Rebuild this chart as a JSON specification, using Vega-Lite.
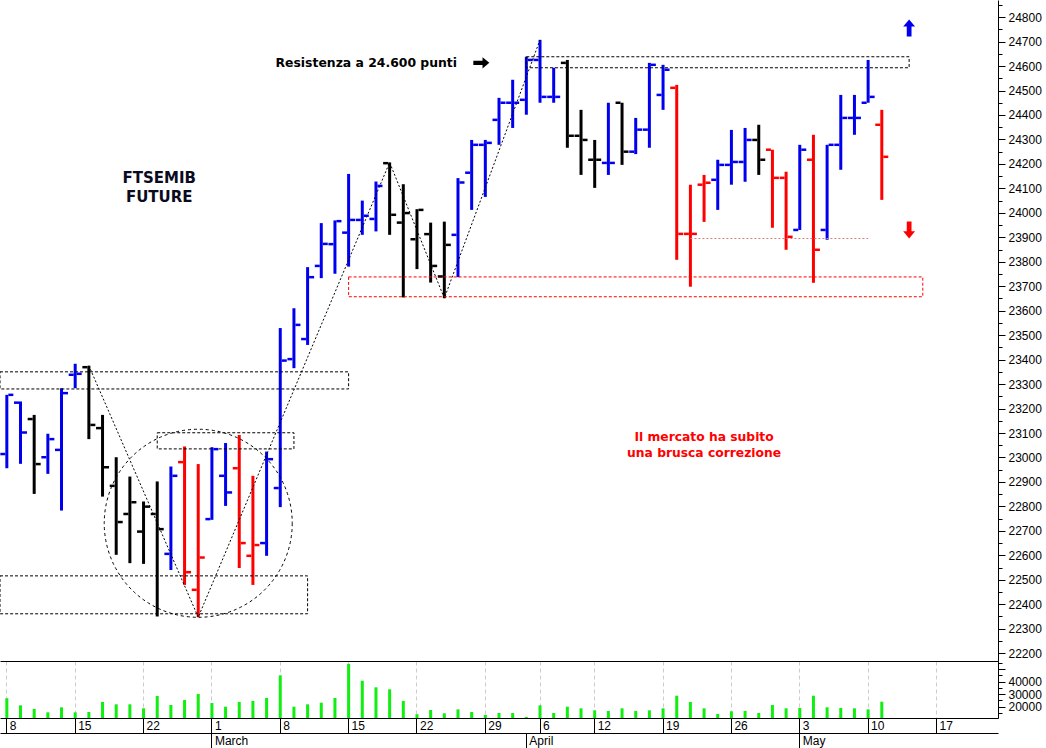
{
  "$schema": "https://vega.github.io/schema/vega-lite/v6.json",
  "padding": 0,
  "background": "white",
  "spacing": 0,
  "bounds": "flush",
  "config": {"view": {"stroke": null}},
  "datasets": {
    "ohlc": [
      {"d":"2021-02-08","o":23014,"h":23256,"l":22956,"c":23256,"v":26700,"k":"blu"},
      {"d":"2021-02-09","o":23224,"h":23229,"l":22974,"c":23102,"v":21100,"k":"blu"},
      {"d":"2021-02-10","o":23157,"h":23174,"l":22851,"c":22973,"v":18200,"k":"nero"},
      {"d":"2021-02-11","o":23001,"h":23097,"l":22933,"c":23075,"v":15500,"k":"blu"},
      {"d":"2021-02-12","o":23031,"h":23283,"l":22783,"c":23263,"v":19500,"k":"blu"},
      {"d":"2021-02-15","o":23338,"h":23383,"l":23283,"c":23342,"v":15500,"k":"blu"},
      {"d":"2021-02-16","o":23369,"h":23375,"l":23075,"c":23133,"v":15800,"k":"nero"},
      {"d":"2021-02-17","o":23120,"h":23174,"l":22840,"c":22960,"v":23800,"k":"nero"},
      {"d":"2021-02-18","o":22884,"h":23001,"l":22602,"c":22736,"v":21900,"k":"nero"},
      {"d":"2021-02-19","o":22769,"h":22922,"l":22568,"c":22817,"v":21900,"k":"nero"},
      {"d":"2021-02-22","o":22697,"h":22820,"l":22565,"c":22799,"v":18700,"k":"nero"},
      {"d":"2021-02-23","o":22769,"h":22902,"l":22350,"c":22707,"v":28600,"k":"nero"},
      {"d":"2021-02-24","o":22606,"h":22963,"l":22540,"c":22925,"v":21400,"k":"blu"},
      {"d":"2021-02-25","o":22981,"h":23045,"l":22479,"c":22531,"v":25400,"k":"rosso"},
      {"d":"2021-02-26","o":22459,"h":22973,"l":22347,"c":22591,"v":30200,"k":"rosso"},
      {"d":"2021-03-01","o":22748,"h":23042,"l":22745,"c":23034,"v":23000,"k":"blu"},
      {"d":"2021-03-02","o":22925,"h":23059,"l":22802,"c":22857,"v":20000,"k":"blu"},
      {"d":"2021-03-03","o":22956,"h":23092,"l":22548,"c":22650,"v":23800,"k":"rosso"},
      {"d":"2021-03-04","o":22598,"h":22925,"l":22479,"c":22642,"v":24600,"k":"rosso"},
      {"d":"2021-03-05","o":22650,"h":23024,"l":22598,"c":22993,"v":27000,"k":"blu"},
      {"d":"2021-03-08","o":22875,"h":23529,"l":22797,"c":23396,"v":45100,"k":"blu"},
      {"d":"2021-03-09","o":23402,"h":23610,"l":23365,"c":23542,"v":20000,"k":"blu"},
      {"d":"2021-03-10","o":23484,"h":23778,"l":23460,"c":23737,"v":21900,"k":"blu"},
      {"d":"2021-03-11","o":23783,"h":23958,"l":23733,"c":23873,"v":23200,"k":"blu"},
      {"d":"2021-03-12","o":23872,"h":23969,"l":23751,"c":23966,"v":27000,"k":"blu"},
      {"d":"2021-03-15","o":23919,"h":24159,"l":23780,"c":23971,"v":54200,"k":"blu"},
      {"d":"2021-03-16","o":23971,"h":24050,"l":23910,"c":23988,"v":40800,"k":"blu"},
      {"d":"2021-03-17","o":23975,"h":24128,"l":23924,"c":24110,"v":35500,"k":"blu"},
      {"d":"2021-03-18","o":24203,"h":24206,"l":23910,"c":23992,"v":33900,"k":"nero"},
      {"d":"2021-03-19","o":23960,"h":24117,"l":23654,"c":23999,"v":24600,"k":"nero"},
      {"d":"2021-03-22","o":23892,"h":24015,"l":23770,"c":24012,"v":14000,"k":"nero"},
      {"d":"2021-03-23","o":23913,"h":23960,"l":23715,"c":23783,"v":17400,"k":"nero"},
      {"d":"2021-03-24","o":23740,"h":23964,"l":23651,"c":23869,"v":14700,"k":"nero"},
      {"d":"2021-03-25","o":23910,"h":24142,"l":23737,"c":24124,"v":17900,"k":"blu"},
      {"d":"2021-03-26","o":24164,"h":24298,"l":24012,"c":24278,"v":15800,"k":"blu"},
      {"d":"2021-03-29","o":24278,"h":24298,"l":24065,"c":24286,"v":13400,"k":"blu"},
      {"d":"2021-03-30","o":24380,"h":24470,"l":24278,"c":24450,"v":15000,"k":"blu"},
      {"d":"2021-03-31","o":24450,"h":24544,"l":24347,"c":24450,"v":15000,"k":"blu"},
      {"d":"2021-04-01","o":24462,"h":24638,"l":24401,"c":24625,"v":11800,"k":"blu"},
      {"d":"2021-04-06","o":24625,"h":24707,"l":24450,"c":24474,"v":21100,"k":"blu"},
      {"d":"2021-04-07","o":24474,"h":24593,"l":24450,"c":24474,"v":15000,"k":"blu"},
      {"d":"2021-04-08","o":24613,"h":24625,"l":24266,"c":24315,"v":20000,"k":"nero"},
      {"d":"2021-04-09","o":24315,"h":24421,"l":24155,"c":24298,"v":18700,"k":"nero"},
      {"d":"2021-04-12","o":24217,"h":24298,"l":24102,"c":24217,"v":17100,"k":"nero"},
      {"d":"2021-04-13","o":24204,"h":24450,"l":24155,"c":24204,"v":16600,"k":"blu"},
      {"d":"2021-04-14","o":24450,"h":24450,"l":24196,"c":24250,"v":18700,"k":"nero"},
      {"d":"2021-04-15","o":24250,"h":24388,"l":24240,"c":24340,"v":16600,"k":"blu"},
      {"d":"2021-04-16","o":24340,"h":24613,"l":24266,"c":24605,"v":17100,"k":"blu"},
      {"d":"2021-04-19","o":24482,"h":24605,"l":24421,"c":24585,"v":18700,"k":"blu"},
      {"d":"2021-04-20","o":24511,"h":24523,"l":23808,"c":23914,"v":28800,"k":"rosso"},
      {"d":"2021-04-21","o":23914,"h":24115,"l":23698,"c":23914,"v":23800,"k":"rosso"},
      {"d":"2021-04-22","o":24115,"h":24155,"l":23963,"c":24123,"v":18700,"k":"rosso"},
      {"d":"2021-04-23","o":24135,"h":24217,"l":24012,"c":24196,"v":14200,"k":"blu"},
      {"d":"2021-04-26","o":24196,"h":24339,"l":24115,"c":24208,"v":16300,"k":"blu"},
      {"d":"2021-04-27","o":24208,"h":24347,"l":24127,"c":24298,"v":16600,"k":"blu"},
      {"d":"2021-04-28","o":24298,"h":24360,"l":24155,"c":24217,"v":15000,"k":"nero"},
      {"d":"2021-04-29","o":24258,"h":24258,"l":23939,"c":24143,"v":21400,"k":"rosso"},
      {"d":"2021-04-30","o":24143,"h":24168,"l":23849,"c":23902,"v":18700,"k":"rosso"},
      {"d":"2021-05-03","o":23930,"h":24278,"l":23930,"c":24258,"v":19000,"k":"blu"},
      {"d":"2021-05-04","o":24217,"h":24319,"l":23714,"c":23849,"v":28800,"k":"rosso"},
      {"d":"2021-05-05","o":23930,"h":24278,"l":23890,"c":24278,"v":19500,"k":"blu"},
      {"d":"2021-05-06","o":24278,"h":24482,"l":24176,"c":24388,"v":19000,"k":"blu"},
      {"d":"2021-05-07","o":24388,"h":24482,"l":24319,"c":24388,"v":18700,"k":"blu"},
      {"d":"2021-05-10","o":24450,"h":24625,"l":24450,"c":24474,"v":17900,"k":"blu"},
      {"d":"2021-05-11","o":24360,"h":24421,"l":24053,"c":24229,"v":24000,"k":"rosso"}
    ],
    "boxesL": [
      {"d1":"2021-02-08","d2":"2021-03-15","lo":23280,"hi":23350,"t":"nero"},
      {"d1":"2021-02-08","d2":"2021-03-10","lo":22361,"hi":22516,"t":"nero"}
    ],
    "boxes": [
      {"d1":"2021-02-23","d2":"2021-03-09","lo":23035,"hi":23101,"t":"nero"},
      {"d1":"2021-04-01","d2":"2021-05-13","lo":24593,"hi":24638,"t":"nero"},
      {"d1":"2021-03-15","d2":"2021-05-14","lo":23657,"hi":23738,"t":"rosso"}
    ],
    "support": [{"d1":"2021-04-21","d2":"2021-05-10","y":23895}],
    "circle": [{"d":"2021-02-26","y":22731}],
    "zigzag": [
      {"d":"2021-02-16","y":23375},
      {"d":"2021-02-26","y":22347},
      {"d":"2021-03-18","y":24206},
      {"d":"2021-03-24","y":23651},
      {"d":"2021-04-06","y":24707}
    ],
    "noteRes": [{"d":"2021-03-16","y":24613,"txt":"Resistenza a 24.600 punti"}],
    "noteTitle": [
      {"d":"2021-02-23","y":24143,"txt":"FTSEMIB"},
      {"d":"2021-02-23","y":24065,"txt":"FUTURE"}
    ],
    "noteRed": [
      {"d":"2021-04-22","y":23084,"txt":"Il mercato ha subito"},
      {"d":"2021-04-22","y":23019,"txt":"una brusca correzione"}
    ],
    "arrowRight": [{"d":"2021-03-29","y":24613}],
    "arrowUp": [{"d":"2021-05-13","y":24756}],
    "arrowDown": [{"d":"2021-05-13","y":23930}]
  },
  "vconcat": [
    {
      "width": 998,
      "height": 661,
      "resolve": {"axis": {"y": "independent"}},
      "layer": [
        {
          "data": {"name": "ohlc"},
          "mark": {"type": "rule", "strokeWidth": 3, "clip": true},
          "encoding": {
            "x": {
              "field": "d", "type": "ordinal", "title": null,
              "scale": {"type": "band", "paddingInner": 0, "paddingOuter": 0,
                "domain": ["2021-02-08","2021-02-09","2021-02-10","2021-02-11","2021-02-12","2021-02-15","2021-02-16","2021-02-17","2021-02-18","2021-02-19","2021-02-22","2021-02-23","2021-02-24","2021-02-25","2021-02-26","2021-03-01","2021-03-02","2021-03-03","2021-03-04","2021-03-05","2021-03-08","2021-03-09","2021-03-10","2021-03-11","2021-03-12","2021-03-15","2021-03-16","2021-03-17","2021-03-18","2021-03-19","2021-03-22","2021-03-23","2021-03-24","2021-03-25","2021-03-26","2021-03-29","2021-03-30","2021-03-31","2021-04-01","2021-04-06","2021-04-07","2021-04-08","2021-04-09","2021-04-12","2021-04-13","2021-04-14","2021-04-15","2021-04-16","2021-04-19","2021-04-20","2021-04-21","2021-04-22","2021-04-23","2021-04-26","2021-04-27","2021-04-28","2021-04-29","2021-04-30","2021-05-03","2021-05-04","2021-05-05","2021-05-06","2021-05-07","2021-05-10","2021-05-11","2021-05-12","2021-05-13","2021-05-14","2021-05-17","2021-05-18","2021-05-19","2021-05-20","2021-05-21"]},
              "axis": {
                "orient": "bottom", "title": null, "labels": false, "ticks": true, "tickSize": 0,
                "domain": true, "domainColor": "#000", "domainWidth": 1,
                "grid": true, "gridColor": "#cccccc", "gridDash": [4, 3], "gridWidth": 1,
                "bandPosition": 0.5,
                "values": ["2021-02-08","2021-02-15","2021-02-22","2021-03-01","2021-03-08","2021-03-15","2021-03-22","2021-03-29","2021-04-06","2021-04-12","2021-04-19","2021-04-26","2021-05-03","2021-05-10","2021-05-17"]
              }
            },
            "y": {
              "field": "l", "type": "quantitative", "title": null,
              "scale": {"domain": [22168, 24870], "nice": false, "zero": false},
              "axis": {
                "orient": "right", "title": null, "grid": false,
                "values": [22200,22300,22400,22500,22600,22700,22800,22900,23000,23100,23200,23300,23400,23500,23600,23700,23800,23900,24000,24100,24200,24300,24400,24500,24600,24700,24800],
                "format": "d",
                "tickSize": 7, "labelPadding": 3, "labelFont": "Liberation Sans", "labelFontSize": 12,
                "labelColor": "#000", "tickColor": "#000", "domainColor": "#000",
                "labelOverlap": false, "labelFlush": false, "labelBound": false
              }
            },
            "y2": {"field": "h"},
            "color": {"field": "k", "type": "nominal", "legend": null,
              "scale": {"domain": ["blu", "nero", "rosso"], "range": ["#0000ee", "#000000", "#ff0000"]}}
          }
        },
        {
          "data": {"name": "ohlc"},
          "mark": {"type": "point", "opacity": 0},
          "encoding": {
            "x": {"field": "d", "type": "ordinal", "axis": null},
            "y": {
              "field": "l", "type": "quantitative", "title": null,
              "axis": {
                "orient": "right", "title": null, "grid": false, "labels": false, "domain": false,
                "values": [22250,22350,22450,22550,22650,22750,22850,22950,23050,23150,23250,23350,23450,23550,23650,23750,23850,23950,24050,24150,24250,24350,24450,24550,24650,24750,24850],
                "tickSize": 4, "tickColor": "#000"
              }
            }
          }
        },
        {
          "data": {"name": "boxesL"},
          "mark": {"type": "rect", "filled": false, "strokeWidth": 1, "strokeDash": [3, 2], "clip": true},
          "encoding": {
            "x": {"field": "d1", "type": "ordinal", "bandPosition": 0, "axis": null},
            "x2": {"field": "d2", "bandPosition": 0.5},
            "y": {"field": "lo", "type": "quantitative", "axis": null},
            "y2": {"field": "hi"},
            "color": {"field": "t", "type": "nominal", "legend": null}
          }
        },
        {
          "data": {"name": "boxes"},
          "mark": {"type": "rect", "filled": false, "strokeWidth": 1, "strokeDash": [3, 2], "clip": true},
          "encoding": {
            "x": {"field": "d1", "type": "ordinal", "bandPosition": 0.5, "axis": null},
            "x2": {"field": "d2", "bandPosition": 0.5},
            "y": {"field": "lo", "type": "quantitative", "axis": null},
            "y2": {"field": "hi"},
            "color": {"field": "t", "type": "nominal", "legend": null}
          }
        },
        {
          "data": {"name": "support"},
          "mark": {"type": "rule", "strokeWidth": 1, "strokeDash": [2, 2], "color": "#d08080"},
          "encoding": {
            "x": {"field": "d1", "type": "ordinal", "axis": null},
            "x2": {"field": "d2"},
            "y": {"field": "y", "type": "quantitative", "axis": null}
          }
        },
        {
          "data": {"name": "circle"},
          "mark": {"type": "point", "shape": "circle", "filled": false, "size": 35344, "stroke": "#000", "strokeWidth": 1, "strokeDash": [3, 3], "opacity": 1},
          "encoding": {
            "x": {"field": "d", "type": "ordinal", "axis": null},
            "y": {"field": "y", "type": "quantitative", "axis": null}
          }
        },
        {
          "data": {"name": "zigzag"},
          "mark": {"type": "line", "color": "#000", "strokeWidth": 1, "strokeDash": [2, 2]},
          "encoding": {
            "x": {"field": "d", "type": "ordinal", "axis": null},
            "y": {"field": "y", "type": "quantitative", "axis": null}
          }
        },
        {
          "data": {"name": "ohlc"},
          "mark": {"type": "rule", "strokeWidth": 2.5, "xOffset": -6.5, "x2Offset": -1.5, "clip": true},
          "encoding": {
            "x": {"field": "d", "type": "ordinal", "axis": null},
            "x2": {"field": "d"},
            "y": {"field": "o", "type": "quantitative", "axis": null},
            "color": {"field": "k", "type": "nominal", "legend": null}
          }
        },
        {
          "data": {"name": "ohlc"},
          "mark": {"type": "rule", "strokeWidth": 2.5, "xOffset": 1.5, "x2Offset": 6.5, "clip": true},
          "encoding": {
            "x": {"field": "d", "type": "ordinal", "axis": null},
            "x2": {"field": "d"},
            "y": {"field": "c", "type": "quantitative", "axis": null},
            "color": {"field": "k", "type": "nominal", "legend": null}
          }
        },
        {
          "data": {"name": "noteRes"},
          "mark": {"type": "text", "font": "DejaVu Sans", "fontWeight": "bold", "fontSize": 12.4, "color": "#000", "align": "center", "baseline": "middle", "dx": 4},
          "encoding": {
            "x": {"field": "d", "type": "ordinal", "axis": null},
            "y": {"field": "y", "type": "quantitative", "axis": null},
            "text": {"field": "txt"}
          }
        },
        {
          "data": {"name": "noteTitle"},
          "mark": {"type": "text", "font": "DejaVu Sans", "fontWeight": "bold", "fontSize": 15, "color": "#0a0a20", "align": "center", "baseline": "middle", "dx": 2},
          "encoding": {
            "x": {"field": "d", "type": "ordinal", "axis": null},
            "y": {"field": "y", "type": "quantitative", "axis": null},
            "text": {"field": "txt"}
          }
        },
        {
          "data": {"name": "noteRed"},
          "mark": {"type": "text", "font": "DejaVu Sans", "fontWeight": "bold", "fontSize": 12.3, "color": "#ff0000", "align": "center", "baseline": "middle"},
          "encoding": {
            "x": {"field": "d", "type": "ordinal", "axis": null},
            "y": {"field": "y", "type": "quantitative", "axis": null},
            "text": {"field": "txt"}
          }
        },
        {
          "data": {"name": "arrowRight"},
          "mark": {"type": "point", "filled": true, "opacity": 1, "color": "#000", "size": 256, "xOffset": -4,
            "shape": "M1,0 L0.15,-0.7 L0.15,-0.28 L-1,-0.28 L-1,0.28 L0.15,0.28 L0.15,0.7 Z"},
          "encoding": {
            "x": {"field": "d", "type": "ordinal", "axis": null},
            "y": {"field": "y", "type": "quantitative", "axis": null}
          }
        },
        {
          "data": {"name": "arrowUp"},
          "mark": {"type": "point", "filled": true, "opacity": 1, "color": "#0000ee", "size": 289,
            "shape": "M0,-1 L0.7,-0.15 L0.28,-0.15 L0.28,1 L-0.28,1 L-0.28,-0.15 L-0.7,-0.15 Z"},
          "encoding": {
            "x": {"field": "d", "type": "ordinal", "axis": null},
            "y": {"field": "y", "type": "quantitative", "axis": null}
          }
        },
        {
          "data": {"name": "arrowDown"},
          "mark": {"type": "point", "filled": true, "opacity": 1, "color": "#ff0000", "size": 289,
            "shape": "M0,1 L0.7,0.15 L0.28,0.15 L0.28,-1 L-0.28,-1 L-0.28,0.15 L-0.7,0.15 Z"},
          "encoding": {
            "x": {"field": "d", "type": "ordinal", "axis": null},
            "y": {"field": "y", "type": "quantitative", "axis": null}
          }
        }
      ]
    },
    {
      "width": 998,
      "height": 57,
      "resolve": {"axis": {"x": "independent", "y": "independent"}},
      "layer": [
        {
          "data": {"name": "ohlc"},
          "mark": {"type": "bar", "width": 3, "color": "#11ee11", "clip": true},
          "encoding": {
            "x": {
              "field": "d", "type": "ordinal", "title": null,
              "scale": {"type": "band", "paddingInner": 0, "paddingOuter": 0,
                "domain": ["2021-02-08","2021-02-09","2021-02-10","2021-02-11","2021-02-12","2021-02-15","2021-02-16","2021-02-17","2021-02-18","2021-02-19","2021-02-22","2021-02-23","2021-02-24","2021-02-25","2021-02-26","2021-03-01","2021-03-02","2021-03-03","2021-03-04","2021-03-05","2021-03-08","2021-03-09","2021-03-10","2021-03-11","2021-03-12","2021-03-15","2021-03-16","2021-03-17","2021-03-18","2021-03-19","2021-03-22","2021-03-23","2021-03-24","2021-03-25","2021-03-26","2021-03-29","2021-03-30","2021-03-31","2021-04-01","2021-04-06","2021-04-07","2021-04-08","2021-04-09","2021-04-12","2021-04-13","2021-04-14","2021-04-15","2021-04-16","2021-04-19","2021-04-20","2021-04-21","2021-04-22","2021-04-23","2021-04-26","2021-04-27","2021-04-28","2021-04-29","2021-04-30","2021-05-03","2021-05-04","2021-05-05","2021-05-06","2021-05-07","2021-05-10","2021-05-11","2021-05-12","2021-05-13","2021-05-14","2021-05-17","2021-05-18","2021-05-19","2021-05-20","2021-05-21"]},
              "axis": {
                "orient": "bottom", "title": null,
                "values": ["2021-02-08","2021-02-15","2021-02-22","2021-03-01","2021-03-08","2021-03-15","2021-03-22","2021-03-29","2021-04-06","2021-04-12","2021-04-19","2021-04-26","2021-05-03","2021-05-10","2021-05-17"],
                "labelExpr": "'' + toNumber(substring(datum.value, 8, 10))",
                "bandPosition": 0.5,
                "grid": true, "gridColor": "#cccccc", "gridDash": [4, 3], "gridWidth": 1,
                "ticks": true, "tickSize": 15, "tickColor": "#000", "tickWidth": 1,
                "domain": true, "domainColor": "#000", "domainWidth": 1,
                "labelAlign": "left", "labelBaseline": "top", "labelPadding": -13, "labelOffset": 3,
                "labelFont": "Liberation Sans", "labelFontSize": 12, "labelColor": "#000",
                "labelOverlap": false, "labelFlush": false, "labelBound": false, "labelAngle": 0
              }
            },
            "y": {
              "field": "v", "type": "quantitative", "title": null,
              "scale": {"domain": [10960, 56560], "nice": false, "zero": false},
              "axis": {
                "orient": "right", "title": null, "grid": false,
                "values": [20000, 30000, 40000, 50000],
                "labelExpr": "datum.value < 45000 ? '' + datum.value : ''",
                "tickSize": 7, "labelPadding": 3, "labelFont": "Liberation Sans", "labelFontSize": 12,
                "labelColor": "#000", "tickColor": "#000", "domainColor": "#000",
                "labelOverlap": false, "labelFlush": false, "labelBound": false
              }
            }
          }
        },
        {
          "data": {"name": "ohlc"},
          "mark": {"type": "point", "opacity": 0},
          "encoding": {
            "x": {"field": "d", "type": "ordinal", "axis": null},
            "y": {
              "field": "v", "type": "quantitative", "title": null,
              "axis": {
                "orient": "right", "title": null, "grid": false, "labels": false, "domain": false,
                "values": [15000, 25000, 35000, 45000, 55000],
                "tickSize": 4, "tickColor": "#000"
              }
            }
          }
        },
        {
          "data": {"name": "ohlc"},
          "mark": {"type": "point", "opacity": 0},
          "encoding": {
            "x": {
              "field": "d", "type": "ordinal", "title": null,
              "axis": {
                "orient": "top", "title": null, "labels": false, "ticks": false, "grid": false,
                "domain": true, "domainColor": "#000", "domainWidth": 1
              }
            },
            "y": {"field": "v", "type": "quantitative", "axis": null}
          }
        },
        {
          "data": {"name": "ohlc"},
          "mark": {"type": "point", "opacity": 0},
          "encoding": {
            "x": {
              "field": "d", "type": "ordinal", "title": null,
              "axis": {
                "orient": "bottom", "offset": 15, "title": null,
                "values": ["2021-03-01", "2021-04-01", "2021-05-03"],
                "labelExpr": "utcFormat(toDate(datum.value), '%B')",
                "bandPosition": 0.5, "grid": false,
                "ticks": true, "tickSize": 15, "tickColor": "#000", "tickWidth": 1,
                "domain": true, "domainColor": "#000", "domainWidth": 1,
                "labelAlign": "left", "labelBaseline": "top", "labelPadding": -13, "labelOffset": 3,
                "labelFont": "Liberation Sans", "labelFontSize": 12, "labelColor": "#000",
                "labelOverlap": false, "labelFlush": false, "labelBound": false, "labelAngle": 0
              }
            },
            "y": {"field": "v", "type": "quantitative", "axis": null}
          }
        }
      ]
    }
  ]
}
